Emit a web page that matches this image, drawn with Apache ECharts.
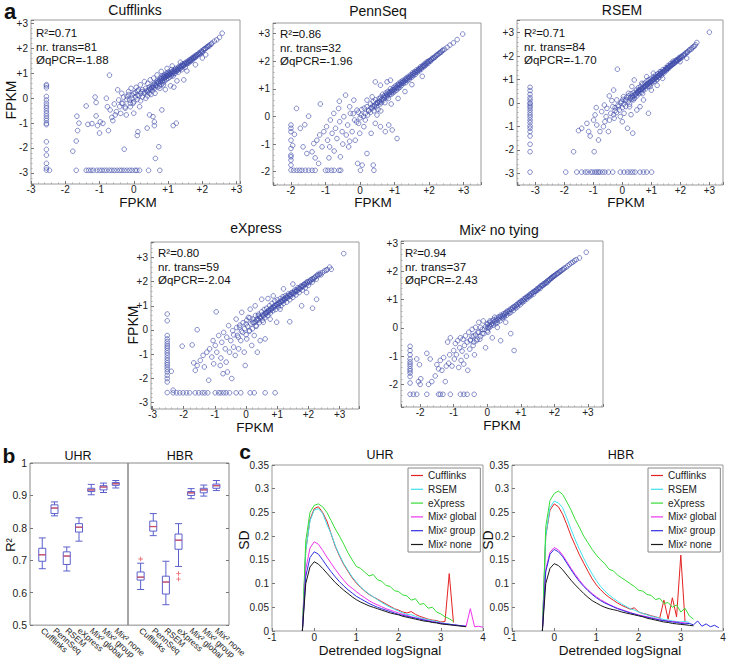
<!DOCTYPE html>
<html>
<head>
<meta charset="utf-8">
<script src="https://cdn.jsdelivr.net/npm/echarts@6.0.0/dist/echarts.min.js"></script>
<style>
  html, body { margin: 0; padding: 0; background: #fff; }
  #chart { width: 730px; height: 662px; }
</style>
</head>
<body>
<div id="chart"></div>
<script>
// ---------- panel a : log FPKM, method vs qPCR ----------
const methodNames = ['Cufflinks', 'PennSeq', 'RSEM', 'eXpress', 'Mix² no tying'];
const r2Values = [0.71, 0.86, 0.71, 0.80, 0.94];
const nrTrans = [81, 32, 84, 59, 37];
const qpcrValues = [-1.88, -1.96, -1.70, -2.04, -2.43];

// Cufflinks
const cuffBand = [[-0.35,-0.2],[-0.3,0.05],[-0.25,-0.35],[-0.2,-0.05],[-0.15,0.15],[-0.1,-0.2],[-0.05,0.0],[0,0.2],[0,-0.15],[0.05,0.05],[0.1,-0.05],[0.1,0.3],[0.15,0.1],[0.2,-0.1],[0.2,0.2],[0.25,0.35],[0.25,0.05],[0.3,0.2],[0.35,0.0],[0.35,0.4],[0.4,0.25],[0.4,0.1],[0.45,0.45],[0.45,0.2],[0.5,0.35],[0.5,0.15],[0.55,0.5],[0.55,0.3],[0.6,0.6],[0.6,0.4],[0.62,0.2],[0.65,0.5],[0.68,0.7],[0.7,0.45],[0.72,0.6],[0.75,0.75],[0.75,0.5],[0.78,0.65],[0.8,0.85],[0.8,0.55],[0.83,0.72],[0.85,0.9],[0.85,0.62],[0.88,0.8],[0.9,0.95],[0.9,0.7],[0.93,0.85],[0.95,1.0],[0.95,0.75],[0.98,0.9],[1.0,1.05],[1.0,0.8],[1.03,0.95],[1.05,0.85],[1.08,1.05],[1.1,0.9],[1.1,1.15],[1.13,1.0],[1.15,0.9],[1.18,1.1],[1.2,1.0],[1.22,1.2],[1.25,1.08],[1.28,1.15],[1.3,1.05],[1.32,1.28],[1.35,1.2],[1.38,1.3],[1.4,1.15],[1.42,1.38],[1.45,1.3],[1.48,1.4],[1.5,1.25],[1.52,1.45],[1.55,1.38],[1.58,1.5],[1.6,1.42],[1.63,1.55],[1.65,1.48],[1.68,1.6],[1.7,1.52],[1.73,1.65],[1.75,1.6],[1.78,1.7],[1.8,1.65],[1.83,1.75],[1.86,1.72],[1.9,1.82],[1.93,1.78],[1.97,1.9],[2.0,1.85],[2.03,1.95],[2.08,2.0],[2.12,2.05],[2.17,2.1],[2.22,2.15],[2.28,2.22],[2.35,2.3],[2.42,2.35],[2.5,2.45],[2.58,2.62]];
const cuffCore = [[0.32,0.25],[0.38,0.3],[0.43,0.33],[0.47,0.38],[0.52,0.42],[0.57,0.45],[0.58,0.55],[0.63,0.52],[0.66,0.62],[0.7,0.65],[0.73,0.68],[0.77,0.7],[0.79,0.78],[0.82,0.8],[0.84,0.68],[0.87,0.85],[0.89,0.88],[0.91,0.82],[0.94,0.92],[0.96,0.88],[0.99,0.97],[1.01,0.92],[1.04,1.02],[1.06,0.98],[1.09,0.96],[1.11,1.05],[1.14,1.08],[1.16,1.02],[1.19,1.15],[1.21,1.08],[1.24,1.16],[1.27,1.12],[1.29,1.22],[1.31,1.16],[1.34,1.25],[1.37,1.22],[1.39,1.32],[1.41,1.26],[1.44,1.34],[1.47,1.33],[1.49,1.38],[1.53,1.4],[1.56,1.44],[1.59,1.46],[1.62,1.5],[1.66,1.53],[1.69,1.56],[1.72,1.6],[1.76,1.64],[1.79,1.66],[1.82,1.7],[1.87,1.76],[1.91,1.8],[1.95,1.83],[1.99,1.88],[2.05,1.97],[2.1,2.0],[2.15,2.07],[2.2,2.1],[2.26,2.18]];
const cuffSpread = [[-1.78,-2.13],[-1.68,-1.72],[-1.64,-1.3],[-1.6,-1.0],[-1.66,-0.72],[-1.39,-0.31],[-1.34,-1.05],[-1.22,-1.02],[-1.13,0.05],[-1.1,-0.17],[-1.1,-0.71],[-1.06,-1.1],[-1.0,-1.4],[-0.98,-0.95],[-0.9,-1.01],[-0.8,0.0],[-0.77,-0.34],[-0.74,-1.3],[-0.71,0.93],[-0.69,-0.47],[-0.64,-0.77],[-0.61,-0.9],[-0.57,-0.23],[-0.54,-0.67],[-0.51,-0.54],[-0.47,0.34],[-0.44,-0.07],[-0.41,-0.34],[-0.38,-0.61],[-0.35,0.2],[-0.32,-0.2],[-0.28,-2.05],[-0.25,-0.4],[-0.22,-0.67],[-0.2,0.07],[-0.15,0.27],[-0.12,-0.07],[-0.1,-0.34],[-0.08,0.4],[-0.05,0.13],[-0.02,-0.2],[0.0,-0.6],[0.04,0.23],[0.07,0.44],[0.11,0.13],[0.14,0.34],[0.17,-0.34],[0.19,0.54],[0.24,0.27],[0.31,0.67],[0.39,-1.2],[0.41,0.6],[0.46,-0.67],[0.48,0.74],[0.53,0.44],[0.56,-0.74],[0.58,0.81],[0.6,-0.95],[0.63,-2.42],[0.68,0.94],[0.73,-1.95],[0.76,0.4],[0.8,1.08],[0.82,-0.47],[0.87,0.54],[0.92,0.35],[0.97,1.2],[1.07,0.5],[1.12,1.3],[1.15,-1.1],[1.17,0.45],[1.24,-1.0],[1.26,0.7],[1.36,1.45],[1.46,0.74],[1.55,1.1],[1.8,1.35],[2.0,1.62],[2.1,1.75],[0.1,-1.5],[0.12,-1.35],[0.6,-1.1]];
const cuffFloorX = -2.55;
const cuffColumnY = [0.55,0.5,0.42,0.07,-0.07,-0.2,-0.31,-0.4,-0.51,-0.61,-0.71,-0.81,-0.9,-1.01,-1.06,-1.75,-2.06,-2.29,-2.62,-2.8,-2.89];
const cuffFloorY = -2.9;
const cuffRowX = [-2.46,-1.68,-1.39,-1.32,-1.25,-1.18,-1.08,-1.0,-0.93,-0.86,-0.79,-0.71,-0.64,-0.57,-0.49,-0.41,-0.35,-0.28,-0.2,-0.12,-0.05,0.04,0.09,0.17,0.43,0.76];

// PennSeq
const pennBand = [[-0.2,0.1],[-0.1,-0.2],[-0.05,0.15],[0,-0.05],[0.05,0.25],[0.1,0.0],[0.12,0.3],[0.15,0.1],[0.2,0.35],[0.22,0.05],[0.25,0.2],[0.3,0.45],[0.3,0.15],[0.35,0.3],[0.38,0.55],[0.4,0.2],[0.42,0.4],[0.45,0.6],[0.48,0.35],[0.5,0.5],[0.52,0.25],[0.55,0.65],[0.58,0.45],[0.6,0.7],[0.62,0.5],[0.65,0.8],[0.68,0.6],[0.7,0.75],[0.72,0.5],[0.75,0.85],[0.78,0.7],[0.8,0.9],[0.82,0.65],[0.85,0.8],[0.88,1.0],[0.9,0.8],[0.92,0.95],[0.95,0.85],[0.98,1.05],[1.0,0.9],[1.02,1.1],[1.05,0.95],[1.08,1.15],[1.1,1.0],[1.12,1.2],[1.15,1.05],[1.18,1.25],[1.2,1.12],[1.23,1.3],[1.26,1.2],[1.3,1.35],[1.32,1.22],[1.35,1.4],[1.38,1.3],[1.4,1.45],[1.43,1.35],[1.46,1.5],[1.5,1.42],[1.52,1.58],[1.55,1.48],[1.58,1.62],[1.6,1.52],[1.63,1.68],[1.66,1.6],[1.7,1.72],[1.72,1.65],[1.75,1.8],[1.78,1.72],[1.82,1.85],[1.85,1.8],[1.88,1.92],[1.9,1.85],[1.94,1.98],[1.97,1.92],[2.0,2.02],[2.04,2.0],[2.08,2.08],[2.12,2.1],[2.17,2.15],[2.2,2.2],[2.25,2.24],[2.3,2.3],[2.35,2.33],[2.4,2.4],[2.45,2.43],[2.52,2.5],[2.6,2.58],[2.7,2.66],[2.81,2.78],[2.97,2.98]];
const pennCore = [[0.32,0.32],[0.37,0.38],[0.41,0.35],[0.46,0.45],[0.51,0.48],[0.54,0.55],[0.57,0.52],[0.61,0.6],[0.64,0.62],[0.67,0.7],[0.71,0.68],[0.74,0.72],[0.77,0.8],[0.79,0.76],[0.83,0.85],[0.86,0.86],[0.89,0.9],[0.91,0.88],[0.94,0.96],[0.97,0.95],[0.99,0.98],[1.03,1.02],[1.06,1.06],[1.09,1.05],[1.11,1.12],[1.14,1.14],[1.17,1.15],[1.19,1.2],[1.22,1.22],[1.25,1.25],[1.28,1.27],[1.31,1.3],[1.34,1.34],[1.37,1.36],[1.41,1.4],[1.44,1.42],[1.47,1.46],[1.51,1.5],[1.54,1.55],[1.57,1.56],[1.61,1.6],[1.65,1.64],[1.68,1.67],[1.71,1.7],[1.74,1.74],[1.77,1.76],[1.81,1.8],[1.84,1.84],[1.87,1.86],[1.91,1.9],[1.95,1.95],[1.99,1.98],[2.03,2.03],[2.07,2.06],[2.11,2.12],[2.16,2.14],[2.22,2.22],[2.28,2.27],[2.33,2.32],[2.38,2.38]];
const pennSpread = [[-1.84,0.29],[-1.49,0.01],[-1.15,0.45],[-1.73,-0.43],[-1.65,-1.1],[-1.54,-1.34],[-1.39,-1.28],[-1.34,-0.98],[-1.25,-0.86],[-1.17,-0.67],[-1.1,-1.1],[-1.05,-0.55],[-0.97,-0.37],[-0.94,-0.86],[-0.88,-1.1],[-0.86,-0.13],[-0.81,-0.61],[-0.76,0.11],[-0.71,-0.43],[-0.67,-0.8],[-0.62,0.29],[-0.59,-0.19],[-0.57,-1.46],[-0.52,-0.55],[-0.47,-0.01],[-0.42,0.77],[-0.4,-0.67],[-0.36,-0.31],[-0.33,-1.1],[-0.28,0.11],[-0.23,-0.55],[-0.18,0.59],[-0.16,-0.13],[-0.14,-0.86],[-0.09,0.23],[-0.07,-1.7],[-0.04,-0.25],[-0.01,-0.61],[0.03,0.05],[0.06,-1.76],[0.11,-0.37],[0.15,-0.13],[0.2,-1.34],[0.25,0.23],[0.32,-0.61],[0.38,-1.76],[0.44,-0.25],[0.49,0.05],[0.59,-0.37],[0.73,-0.55],[0.83,-0.31],[0.93,-0.49],[1.07,-0.8],[0.78,1.25],[0.44,1.25],[0.2,0.59],[0.35,0.71],[0.59,1.13],[0.88,1.31],[-1.95,-1.05],[-1.9,-0.65],[-1.6,-0.3],[-1.3,-1.5],[-1.2,-1.7],[-0.9,-1.5],[-0.75,-1.25],[-0.5,-1.0],[-0.3,-0.9],[0.6,0.2],[0.9,0.45],[1.1,0.65],[1.3,0.9],[1.5,1.15],[1.8,1.45],[-0.6,0.55],[-0.3,0.35]];
const pennFloorX = -2.0;
const pennColumnY = [-0.31,-0.43,-0.55,-0.86,-1.16,-1.4,-1.46,-1.58,-1.76,-1.94];
const pennFloorY = -1.95;
const pennRowX = [-1.92,-1.83,-1.75,-1.68,-1.58,-1.49,-1.39,-1.3,-1.0,-0.93,-0.83,-0.75,-0.61,-0.56,0.01,0.4];

// RSEM
const rsemBand = [[-0.3,-0.5],[-0.25,-0.2],[-0.2,-0.4],[-0.15,-0.1],[-0.1,-0.3],[-0.05,0.0],[0,-0.2],[0.02,0.15],[0.05,-0.05],[0.1,0.1],[0.12,-0.15],[0.15,0.25],[0.2,0.05],[0.22,0.3],[0.25,-0.05],[0.28,0.2],[0.3,0.4],[0.33,0.15],[0.35,0.3],[0.4,0.45],[0.42,0.2],[0.45,0.35],[0.48,0.55],[0.5,0.3],[0.53,0.45],[0.55,0.65],[0.58,0.4],[0.6,0.55],[0.63,0.7],[0.65,0.45],[0.68,0.6],[0.7,0.8],[0.72,0.55],[0.75,0.7],[0.78,0.85],[0.8,0.6],[0.82,0.75],[0.85,0.95],[0.88,0.7],[0.9,0.85],[0.92,1.0],[0.95,0.78],[0.98,0.9],[1.0,1.05],[1.02,0.85],[1.05,0.98],[1.08,1.12],[1.1,0.92],[1.12,1.05],[1.15,1.2],[1.18,1.0],[1.2,1.12],[1.23,1.25],[1.26,1.08],[1.3,1.2],[1.32,1.32],[1.35,1.18],[1.38,1.3],[1.4,1.42],[1.43,1.28],[1.46,1.38],[1.5,1.5],[1.52,1.38],[1.55,1.48],[1.58,1.6],[1.6,1.48],[1.63,1.58],[1.66,1.68],[1.7,1.6],[1.72,1.7],[1.75,1.78],[1.78,1.68],[1.82,1.8],[1.85,1.75],[1.88,1.85],[1.92,1.82],[1.95,1.92],[1.98,1.88],[2.02,1.98],[2.06,1.95],[2.1,2.05],[2.15,2.08],[2.2,2.15],[2.25,2.18],[2.3,2.25],[2.38,2.3],[2.45,2.4],[2.52,2.48]];
const rsemCore = [[0.3,0.25],[0.35,0.22],[0.4,0.32],[0.44,0.38],[0.49,0.4],[0.52,0.47],[0.56,0.5],[0.6,0.52],[0.62,0.58],[0.66,0.6],[0.7,0.62],[0.73,0.67],[0.77,0.7],[0.8,0.72],[0.83,0.78],[0.86,0.8],[0.89,0.82],[0.93,0.87],[0.96,0.88],[0.99,0.93],[1.03,0.95],[1.06,1.0],[1.09,1.02],[1.13,1.06],[1.16,1.08],[1.19,1.12],[1.22,1.14],[1.25,1.18],[1.28,1.2],[1.31,1.25],[1.34,1.26],[1.37,1.3],[1.41,1.33],[1.44,1.37],[1.48,1.4],[1.51,1.44],[1.54,1.46],[1.57,1.5],[1.61,1.54],[1.64,1.56],[1.68,1.6],[1.71,1.63],[1.74,1.66],[1.77,1.7],[1.8,1.72],[1.84,1.77],[1.87,1.8],[1.9,1.83],[1.94,1.87],[1.97,1.9],[2.0,1.93],[2.05,1.98],[2.12,2.03],[2.18,2.1],[2.24,2.16],[2.33,2.28],[2.4,2.35],[2.48,2.42]];
const rsemSpread = [[-1.68,-2.08],[-0.97,-2.08],[-1.51,-1.18],[-1.4,-1.08],[-1.22,-0.87],[-1.16,-1.22],[-1.11,-1.41],[-0.99,-0.73],[-0.94,-0.51],[-0.88,-0.94],[-0.82,-1.58],[-0.77,-1.22],[-0.71,-0.37],[-0.65,-1.01],[-0.62,-0.09],[-0.56,-0.58],[-0.53,-0.23],[-0.48,-1.22],[-0.44,-0.73],[-0.4,-0.44],[-0.36,0.1],[-0.33,-0.16],[-0.3,0.55],[-0.28,-0.65],[-0.25,-0.33],[-0.19,0.13],[-0.17,1.44],[-0.13,-0.16],[-0.07,-0.58],[-0.02,0.06],[0.04,0.27],[0.06,-0.44],[0.13,0.13],[0.18,-1.08],[0.21,0.41],[0.25,-0.16],[0.33,0.7],[0.36,-1.29],[0.38,0.13],[0.41,0.98],[0.5,-0.3],[0.56,0.55],[0.61,-0.16],[0.67,0.84],[0.73,0.13],[0.84,1.12],[0.9,-0.44],[0.96,0.7],[1.07,1.27],[1.19,0.98],[1.3,1.34],[1.53,1.48],[1.39,1.05],[1.99,1.76],[2.22,1.91],[2.57,2.58],[3.0,3.02],[-0.9,-0.2],[-0.6,-0.8],[-0.45,0.3],[0.0,-0.8],[0.3,-0.5],[0.7,0.4],[1.0,0.55],[1.2,0.75]];
const rsemFloorX = -3.18;
const rsemColumnY = [0.67,0.53,0.37,0.23,0.13,0.01,-0.04,-0.13,-0.2,-0.3,-0.41,-0.51,-0.61,-0.73,-0.84,-0.98,-1.08,-1.22,-1.41,-1.76,-2.08,-2.95];
const rsemFloorY = -2.95;
const rsemRowX = [-1.95,-1.57,-1.4,-1.28,-1.2,-1.09,-1.02,-0.94,-0.88,-0.82,-0.77,-0.68,-0.6,-0.48,-0.33,-0.07,0.06,0.18,0.27,0.36,0.44,0.61,0.73,0.84,1.01];

// eXpress
const expBand = [[-0.4,-0.2],[-0.3,0.1],[-0.25,-0.3],[-0.2,0.2],[-0.15,-0.05],[-0.1,0.3],[-0.05,0.05],[0,-0.2],[0.02,0.4],[0.05,0.15],[0.1,-0.05],[0.12,0.5],[0.15,0.25],[0.2,0.05],[0.22,0.45],[0.25,0.3],[0.3,0.6],[0.32,0.15],[0.35,0.4],[0.4,0.65],[0.42,0.3],[0.45,0.5],[0.5,0.75],[0.52,0.4],[0.55,0.6],[0.58,0.85],[0.6,0.5],[0.63,0.7],[0.66,0.9],[0.7,0.6],[0.72,0.8],[0.75,1.0],[0.78,0.7],[0.8,0.9],[0.83,1.1],[0.86,0.8],[0.9,1.0],[0.92,1.2],[0.95,0.85],[0.98,1.05],[1.0,1.25],[1.03,0.95],[1.06,1.1],[1.1,1.3],[1.12,1.0],[1.15,1.18],[1.18,1.38],[1.2,1.1],[1.23,1.25],[1.26,1.42],[1.3,1.15],[1.33,1.32],[1.36,1.5],[1.4,1.25],[1.43,1.4],[1.46,1.55],[1.5,1.35],[1.53,1.5],[1.56,1.65],[1.6,1.45],[1.63,1.6],[1.66,1.75],[1.7,1.55],[1.73,1.7],[1.76,1.82],[1.8,1.65],[1.83,1.8],[1.86,1.9],[1.9,1.75],[1.93,1.88],[1.96,2.0],[2.0,1.85],[2.04,1.98],[2.08,2.08],[2.12,1.98],[2.16,2.1],[2.2,2.18],[2.25,2.1],[2.3,2.25],[2.35,2.3],[2.4,2.28],[2.45,2.38],[2.52,2.45],[2.6,2.5],[2.68,2.6]];
const expCore = [[0.3,0.35],[0.35,0.45],[0.4,0.42],[0.44,0.55],[0.48,0.52],[0.52,0.62],[0.56,0.58],[0.6,0.68],[0.63,0.65],[0.67,0.75],[0.7,0.72],[0.73,0.82],[0.77,0.8],[0.8,0.86],[0.83,0.88],[0.86,0.94],[0.89,0.92],[0.92,1.0],[0.95,1.0],[0.98,1.06],[1.01,1.05],[1.04,1.12],[1.07,1.1],[1.1,1.18],[1.13,1.16],[1.16,1.24],[1.19,1.22],[1.22,1.3],[1.25,1.28],[1.28,1.35],[1.31,1.34],[1.34,1.42],[1.38,1.4],[1.41,1.48],[1.44,1.46],[1.48,1.54],[1.51,1.52],[1.55,1.6],[1.58,1.58],[1.62,1.66],[1.65,1.64],[1.69,1.72],[1.72,1.7],[1.76,1.78],[1.8,1.8],[1.84,1.86],[1.88,1.88],[1.92,1.94],[1.97,1.96],[2.02,2.02],[2.07,2.05],[2.12,2.12],[2.18,2.15],[2.24,2.22],[2.3,2.3],[2.38,2.35]];
const expSpread = [[-2.4,-1.71],[-2.34,-2.49],[-2.05,-0.67],[-1.73,-0.62],[-1.57,0.01],[-1.68,-1.36],[-1.63,-1.67],[-1.57,-1.47],[-1.47,-1.26],[-1.38,-1.05],[-1.34,-1.53],[-1.26,-0.92],[-1.2,-2.08],[-1.17,-0.78],[-1.1,-1.12],[-1.06,-0.44],[-1.04,-1.4],[-0.99,-0.64],[-0.96,0.75],[-0.94,-0.92],[-0.88,-0.23],[-0.83,-1.47],[-0.81,-1.16],[-0.78,-0.51],[-0.74,-1.81],[-0.72,-0.1],[-0.67,-0.78],[-0.64,-1.33],[-0.62,-0.3],[-0.6,-1.74],[-0.56,0.18],[-0.53,-0.92],[-0.49,-0.44],[-0.46,-2.01],[-0.43,-0.03],[-0.4,-0.71],[-0.35,-1.05],[-0.32,0.45],[-0.28,-0.23],[-0.24,-0.78],[-0.21,0.11],[-0.17,-0.44],[-0.14,0.73],[-0.11,-0.1],[-0.06,-0.92],[-0.03,-1.47],[0.0,0.25],[0.02,-0.37],[0.07,0.52],[0.11,-0.03],[0.13,0.86],[0.18,-0.64],[0.21,0.32],[0.26,-0.23],[0.29,1.0],[0.32,0.18],[0.36,-0.92],[0.39,0.59],[0.45,-0.44],[0.5,1.27],[0.55,0.32],[0.61,-0.37],[0.66,0.73],[0.77,0.45],[0.87,1.41],[0.98,0.32],[1.09,0.86],[1.4,0.34],[1.78,1.0],[2.13,0.9],[2.26,1.27],[1.94,1.55],[2.57,2.47],[2.73,2.51],[3.13,3.16],[1.2,1.7],[1.5,1.9],[0.7,1.3]];
const expFloorX = -2.53;
const expColumnY = [0.66,0.38,-0.23,-0.37,-0.48,-0.58,-0.67,-0.75,-0.85,-0.95,-1.05,-1.16,-1.26,-1.36,-1.44,-1.53,-1.63,-1.74,-1.88,-2.01,-2.15,-2.59];
const expFloorY = -2.6;
const expRowX = [-2.34,-2.23,-2.13,-2.02,-1.91,-1.81,-1.63,-1.52,-1.41,-1.33,-1.23,-0.99,-0.88,-0.81,-0.72,-0.64,-0.53,-0.32,-0.17,0.13,0.26,0.61,0.93];

// Mix2 no tying
const mixBand = [[-0.5,-0.45],[-0.45,-0.3],[-0.4,-0.5],[-0.35,-0.25],[-0.3,-0.4],[-0.25,-0.15],[-0.2,-0.3],[-0.15,-0.05],[-0.1,-0.2],[-0.05,0.05],[0,-0.1],[0,0.12],[0.05,0.0],[0.08,0.2],[0.1,0.05],[0.15,0.25],[0.18,0.1],[0.2,0.3],[0.25,0.15],[0.28,0.35],[0.3,0.2],[0.35,0.4],[0.38,0.25],[0.4,0.45],[0.45,0.35],[0.48,0.5],[0.5,0.38],[0.55,0.55],[0.58,0.45],[0.6,0.6],[0.65,0.52],[0.68,0.66],[0.7,0.55],[0.75,0.72],[0.78,0.62],[0.8,0.76],[0.85,0.7],[0.88,0.83],[0.9,0.75],[0.95,0.9],[0.98,0.82],[1.0,0.95],[1.05,0.9],[1.08,1.02],[1.1,0.95],[1.15,1.08],[1.18,1.02],[1.2,1.12],[1.25,1.1],[1.28,1.2],[1.3,1.14],[1.35,1.26],[1.38,1.2],[1.4,1.3],[1.45,1.3],[1.48,1.38],[1.5,1.34],[1.55,1.44],[1.58,1.4],[1.6,1.5],[1.65,1.5],[1.68,1.57],[1.7,1.54],[1.75,1.62],[1.78,1.6],[1.8,1.68],[1.85,1.7],[1.88,1.75],[1.92,1.78],[1.96,1.82],[2.0,1.85],[2.05,1.9],[2.1,1.94],[2.15,1.98],[2.2,2.03],[2.27,2.08],[2.35,2.15],[2.45,2.25],[2.55,2.33],[2.65,2.42],[2.75,2.48],[2.95,2.68]];
const mixCore = [[0.02,0.02],[0.06,0.08],[0.12,0.12],[0.16,0.17],[0.22,0.22],[0.26,0.26],[0.32,0.3],[0.36,0.35],[0.42,0.39],[0.46,0.44],[0.52,0.48],[0.56,0.52],[0.62,0.58],[0.66,0.6],[0.72,0.66],[0.76,0.7],[0.82,0.75],[0.86,0.8],[0.92,0.85],[0.96,0.88],[1.02,0.94],[1.06,0.97],[1.12,1.03],[1.16,1.06],[1.22,1.12],[1.26,1.16],[1.32,1.21],[1.36,1.25],[1.42,1.3],[1.46,1.34],[1.52,1.4],[1.56,1.43],[1.62,1.49],[1.66,1.52],[1.72,1.58],[1.76,1.62],[1.82,1.67],[1.86,1.71],[1.9,1.75],[1.94,1.79],[1.98,1.83],[2.02,1.86],[2.08,1.92],[2.12,1.95],[2.18,2.0],[2.24,2.06],[2.3,2.12],[2.4,2.2],[2.5,2.3],[2.6,2.38]];
const mixSpread = [[-2.1,-1.1],[-2.02,-1.3],[-2.05,-1.9],[-2.0,-2.0],[-1.98,-1.8],[-1.8,-0.9],[-1.7,-1.1],[-1.75,-2.0],[-1.65,-1.9],[-1.55,-1.7],[-1.5,-1.3],[-1.45,-1.45],[-1.4,-1.15],[-1.35,-1.5],[-1.3,-1.05],[-1.25,-1.9],[-1.22,-1.35],[-1.18,-0.5],[-1.15,-1.25],[-1.12,-0.95],[-1.1,-0.35],[-1.05,-1.35],[-1.0,-0.8],[-0.98,-1.1],[-0.95,-0.55],[-0.92,-0.95],[-0.88,-0.45],[-0.85,-1.4],[-0.82,-0.7],[-0.8,-0.35],[-0.78,-1.15],[-0.75,-0.82],[-0.72,-0.4],[-0.7,-1.28],[-0.68,-0.62],[-0.65,-0.28],[-0.62,-1.0],[-0.6,-0.5],[-0.58,-1.5],[-0.55,-0.15],[-0.52,-0.75],[-0.5,-0.42],[-0.45,-0.05],[-0.42,-0.62],[-0.4,-0.28],[-0.38,-0.95],[-0.35,0.02],[-0.32,-0.45],[-0.28,-0.15],[-0.25,0.2],[-0.22,-0.4],[-0.2,0.02],[-0.15,-0.2],[-0.12,0.25],[-0.08,-0.05],[-0.05,-0.7],[0.0,0.15],[0.02,-0.15],[0.08,0.25],[0.15,-0.35],[0.22,0.38],[0.3,0.02],[0.4,-0.45],[0.5,0.42],[0.55,0.2],[0.7,-0.2],[0.8,-0.8]];
const mixFloorX = -2.3;
const mixColumnY = [-0.65,-0.8,-0.95,-1.1,-1.2,-1.28,-1.36,-1.45,-1.52,-1.6,-1.72,-1.95,-2.35];
const mixFloorY = -2.35;
const mixRowX = [-2.2,-2.1,-1.8,-1.45,-1.4,-1.32,-1.1,-0.8,-0.7,-0.6,-0.39];

// ---------- panel b : R2 box plots ----------
const boxCats = ['Cufflinks', 'PennSeq', 'RSEM', 'eXpress', 'Mix² global', 'Mix² group', 'Mix² none'];
// [min, Q1, median, Q3, max]
const uhrBox = [[0.674,0.697,0.717,0.737,0.769],[0.837,0.844,0.861,0.871,0.880],[0.667,0.687,0.713,0.726,0.741],[0.759,0.787,0.802,0.813,0.831],[0.902,0.912,0.917,0.922,0.934],[0.909,0.917,0.926,0.930,0.938],[0.923,0.931,0.936,0.940,0.946]];
const hbrBox = [[0.610,0.639,0.648,0.664,0.691],[0.776,0.790,0.804,0.821,0.844],[0.563,0.596,0.633,0.651,0.697],[0.681,0.734,0.762,0.781,0.813],[0.890,0.900,0.908,0.912,0.921],[0.898,0.908,0.917,0.922,0.932],[0.915,0.922,0.930,0.935,0.946]];
const hbrOutliers = [[1, 0.704], [4, 0.659], [4, 0.642]];

// ---------- panel c : SD vs detrended log signal ----------
const lineNames = ['Cufflinks', 'RSEM', 'eXpress', 'Mix² global', 'Mix² group', 'Mix² none'];
const logX = [-0.28,-0.2,-0.1,0,0.1,0.2,0.3,0.4,0.5,0.6,0.7,0.8,0.9,1.0,1.1,1.2,1.3,1.4,1.5,1.6,1.7,1.8,1.9,2.0,2.1,2.2,2.3,2.4,2.5,2.6,2.7,2.8,2.9,3.0,3.1,3.2,3.3,3.4,3.5,3.6,3.7,3.8,3.9,4.0];
const uhrSD = [
  [0,0.17,0.235,0.258,0.262,0.25,0.232,0.205,0.178,0.158,0.14,0.126,0.112,0.101,0.092,0.084,0.077,0.072,0.067,0.062,0.057,0.052,0.047,0.044,0.04,0.038,0.041,0.035,0.031,0.028,0.025,0.023,0.022,0.019,0.02,0.121,0.018],
  [0,0.17,0.232,0.255,0.258,0.248,0.225,0.205,0.18,0.16,0.142,0.128,0.114,0.103,0.093,0.085,0.078,0.072,0.066,0.06,0.055,0.05,0.046,0.042,0.038,0.035,0.034,0.031,0.028,0.026,0.024,0.022,0.02,0.018,0.016,0.015,0.013,0.012,0.011],
  [0,0.19,0.25,0.265,0.268,0.262,0.25,0.233,0.215,0.2,0.183,0.165,0.15,0.136,0.132,0.124,0.116,0.119,0.108,0.105,0.096,0.094,0.085,0.083,0.076,0.074,0.065,0.068,0.056,0.058,0.048,0.05,0.04,0.036,0.03,0.026,0.02],
  [0,0.13,0.175,0.188,0.183,0.17,0.156,0.143,0.13,0.118,0.107,0.097,0.09,0.083,0.076,0.07,0.064,0.059,0.055,0.051,0.047,0.044,0.041,0.038,0.035,0.033,0.03,0.028,0.026,0.024,0.022,0.02,0.018,0.017,0.015,0.014,0.013,0.012,0.011,0.01,0.047,0.009,0.01,0.008],
  [0,0.115,0.155,0.167,0.162,0.15,0.137,0.125,0.114,0.104,0.095,0.087,0.08,0.073,0.068,0.063,0.058,0.054,0.05,0.047,0.044,0.041,0.038,0.035,0.033,0.031,0.029,0.027,0.025,0.023,0.021,0.019,0.018,0.016,0.015,0.014,0.013,0.012,0.011,0.01],
  [0,0.1,0.135,0.146,0.141,0.132,0.122,0.112,0.102,0.094,0.086,0.079,0.072,0.066,0.061,0.057,0.053,0.05,0.047,0.044,0.041,0.038,0.036,0.034,0.031,0.029,0.027,0.025,0.023,0.021,0.02,0.018,0.017,0.015,0.014,0.013,0.012,0.011,0.01,0.009]
];
const hbrSD = [
  [0,0.2,0.255,0.268,0.262,0.246,0.224,0.2,0.18,0.16,0.143,0.126,0.11,0.097,0.087,0.078,0.071,0.065,0.059,0.054,0.05,0.046,0.049,0.04,0.037,0.035,0.032,0.03,0.027,0.065,0.025,0.07,0.03,0.16,0.02],
  [0,0.2,0.26,0.274,0.27,0.26,0.238,0.214,0.192,0.172,0.153,0.136,0.12,0.106,0.094,0.084,0.076,0.069,0.063,0.057,0.052,0.047,0.044,0.04,0.037,0.034,0.031,0.029,0.027,0.024,0.023,0.021,0.02,0.019,0.02,0.018],
  [0,0.22,0.275,0.29,0.295,0.288,0.272,0.255,0.235,0.218,0.2,0.186,0.172,0.16,0.15,0.142,0.13,0.127,0.118,0.112,0.106,0.1,0.094,0.086,0.084,0.077,0.075,0.066,0.069,0.058,0.06,0.05,0.055,0.04,0.048,0.032,0.025],
  [0,0.13,0.166,0.176,0.171,0.16,0.146,0.132,0.119,0.107,0.096,0.087,0.079,0.072,0.066,0.061,0.056,0.052,0.048,0.045,0.042,0.039,0.036,0.034,0.032,0.03,0.028,0.026,0.024,0.022,0.021,0.02,0.019,0.018,0.017,0.016],
  [0,0.125,0.162,0.172,0.167,0.157,0.143,0.129,0.116,0.104,0.094,0.085,0.077,0.07,0.064,0.059,0.055,0.051,0.047,0.044,0.041,0.038,0.036,0.033,0.031,0.029,0.027,0.025,0.023,0.022,0.02,0.019,0.018,0.016,0.015,0.016,0.013,0.021,0.01,0.015,0.009,0.012,0.007],
  [0,0.1,0.132,0.142,0.138,0.129,0.118,0.107,0.097,0.088,0.079,0.071,0.064,0.059,0.054,0.05,0.047,0.045,0.043,0.04,0.038,0.036,0.034,0.032,0.03,0.027,0.025,0.023,0.021,0.019,0.018,0.016,0.015,0.014,0.013,0.012,0.011]
];

// ---------- layout ----------
const FONT = '"Liberation Sans", Arial, Helvetica, sans-serif';
const lineColors = ['#e32222', '#3fe3ee', '#35dd35', '#ee33ee', '#3030e0', '#1a1a1a'];

const scatterSets = [
  [cuffBand.concat(cuffCore), cuffSpread, cuffFloorX, cuffColumnY, cuffFloorY, cuffRowX],
  [pennBand.concat(pennCore), pennSpread, pennFloorX, pennColumnY, pennFloorY, pennRowX],
  [rsemBand.concat(rsemCore), rsemSpread, rsemFloorX, rsemColumnY, rsemFloorY, rsemRowX],
  [expBand.concat(expCore), expSpread, expFloorX, expColumnY, expFloorY, expRowX],
  [mixBand.concat(mixCore), mixSpread, mixFloorX, mixColumnY, mixFloorY, mixRowX]
];
const scatterBoxes = [
  { left: 31, top: 20, width: 209, height: 164, xr: [-3, 3.1], yr: [-3.45, 3.15], title: [135, 10], stats: [36, 33] },
  { left: 273, top: 23, width: 208, height: 162, xr: [-2.52, 3.5], yr: [-2.48, 3.38], title: [378, 11], stats: [280, 34] },
  { left: 517, top: 20, width: 206, height: 165, xr: [-3.63, 3.47], yr: [-3.5, 3.54], title: [622, 10], stats: [524, 33] },
  { left: 151, top: 242, width: 208, height: 167, xr: [-3.05, 3.62], yr: [-3.27, 3.64], title: [256, 228], stats: [158, 253] },
  { left: 401, top: 241, width: 202, height: 166, xr: [-2.57, 3.45], yr: [-2.8, 3.08], title: [499, 230], stats: [405, 253] }
];

function signed(v) {
  if (Math.abs(v - Math.round(v)) > 1e-6) return '';
  v = Math.round(v);
  return v > 0 ? '+' + v : String(v);
}

function text(str, x, y, size, opt) {
  opt = opt || {};
  const align = opt.align || 'center';
  return {
    type: 'text', x: x, y: y, rotation: opt.rotation || 0, silent: true, z: 100,
    style: {
      text: str, fill: '#111',
      font: (opt.weight || 'normal') + ' ' + size + 'px ' + FONT,
      textAlign: align, textVerticalAlign: 'middle', align: align, verticalAlign: 'middle'
    }
  };
}

const grids = [], xAxes = [], yAxes = [], series = [], graphics = [];

function tickAxis(gridIndex, extra) {
  return Object.assign({
    gridIndex: gridIndex, type: 'value',
    axisLine: { show: false, onZero: false }, splitLine: { show: false },
    axisTick: { inside: true, length: 3, lineStyle: { color: '#777' } },
    axisLabel: { fontSize: 10.5, color: '#222', fontFamily: FONT, margin: 3 }
  }, extra);
}

// panel a
scatterBoxes.forEach(function (b, i) {
  grids.push({ left: b.left, top: b.top, width: b.width, height: b.height, show: true, borderColor: '#9a9a9a', borderWidth: 1 });
  const minor = { show: true, splitNumber: 5, length: 1.5, lineStyle: { color: '#aaa' } };
  xAxes.push(tickAxis(i, { min: b.xr[0], max: b.xr[1], splitNumber: 6, minorTick: minor,
    axisLabel: { formatter: signed, fontSize: 10, color: '#222', fontFamily: FONT, margin: 0.5 } }));
  yAxes.push(tickAxis(i, { min: b.yr[0], max: b.yr[1], splitNumber: 6, minorTick: minor,
    axisLabel: { formatter: signed, fontSize: 10, color: '#222', fontFamily: FONT, margin: 3 } }));
  const s = scatterSets[i];
  const pts = s[0].concat(s[1], s[3].map(function (y) { return [s[2], y]; }), s[5].map(function (x) { return [x, s[4]]; }));
  series.push({
    type: 'scatter', xAxisIndex: i, yAxisIndex: i, data: pts, symbolSize: 4.6, silent: true,
    itemStyle: { color: 'rgba(0,0,0,0)', borderColor: '#3f4ba8', borderWidth: 0.8 }
  });
  graphics.push(text(methodNames[i], b.title[0], b.title[1], 14));
  graphics.push(text('R²=' + r2Values[i].toFixed(2), b.stats[0], b.stats[1], 11.5, { align: 'left' }));
  graphics.push(text('nr. trans=' + nrTrans[i], b.stats[0], b.stats[1] + 14, 11.5, { align: 'left' }));
  graphics.push(text('ØqPCR=' + qpcrValues[i].toFixed(2), b.stats[0], b.stats[1] + 27, 11.5, { align: 'left' }));
});
graphics.push(text('a', 10, 11, 22, { weight: 'bold' }));
[[138, 202.5], [373, 202.5], [626, 202.5], [255, 427], [502, 425]].forEach(function (p) {
  graphics.push(text('FPKM', p[0], p[1], 13.5));
});
graphics.push(text('FPKM', 11, 100, 14, { rotation: Math.PI / 2 }));
graphics.push(text('FPKM', 133, 325, 14, { rotation: Math.PI / 2 }));

// panel b
const boxGrids = [{ left: 30, top: 463, width: 98, height: 166 }, { left: 128, top: 463, width: 101, height: 166 }];
const boxData = [uhrBox, hbrBox];
boxGrids.forEach(function (g, k) {
  const gi = grids.length;
  grids.push(Object.assign({ show: true, borderColor: '#888', borderWidth: 1 }, g));
  xAxes.push({
    gridIndex: gi, type: 'value', min: 0, max: 8, interval: 1,
    axisLine: { show: false, onZero: false }, splitLine: { show: false }, axisTick: { show: false },
    axisLabel: { rotate: -42, fontSize: 8.5, color: '#222', fontFamily: FONT, margin: 4,
      formatter: function (v) { return boxCats[v - 1] || ''; } }
  });
  yAxes.push(tickAxis(gi, { min: 0.5, max: 1, interval: 0.1, position: k === 0 ? 'left' : 'right',
    axisLabel: { show: k === 0, fontSize: 10.5, color: '#222', fontFamily: FONT, margin: 3 } }));
  series.push({
    type: 'boxplot', xAxisIndex: gi, yAxisIndex: gi, silent: true, boxWidth: [7, 7],
    data: boxData[k].map(function (b, i) { return [i + 1].concat(b); }),
    itemStyle: { color: 'rgba(0,0,0,0)', borderColor: '#5b60cc', borderWidth: 1 }
  });
  series.push({
    type: 'scatter', xAxisIndex: gi, yAxisIndex: gi, silent: true, z: 5,
    symbol: 'rect', symbolSize: [7, 1.3], itemStyle: { color: '#e4474a' },
    data: boxData[k].map(function (b, i) { return [i + 1, b[2]]; })
  });
  if (k === 1) {
    series.push({
      type: 'scatter', xAxisIndex: gi, yAxisIndex: gi, silent: true, z: 5,
      symbol: 'path://M2,0h1v2h2v1h-2v2h-1v-2h-2v-1h2z', symbolSize: 4.5,
      itemStyle: { color: '#e4474a' }, data: hbrOutliers
    });
  }
});
graphics.push(text('b', 9, 455, 21, { weight: 'bold' }));
graphics.push(text('UHR', 78, 456, 12.5));
graphics.push(text('HBR', 180, 456, 12.5));
graphics.push(text('R²', 10, 545, 13, { rotation: Math.PI / 2 }));

// panel c
const lineGrids = [{ left: 272, top: 465, width: 211, height: 166 }, { left: 512, top: 465, width: 211, height: 166 }];
const sdSets = [uhrSD, hbrSD];
const legends = [];
lineGrids.forEach(function (g, k) {
  const gi = grids.length;
  grids.push(Object.assign({ show: true, borderColor: '#999', borderWidth: 1 }, g));
  xAxes.push(tickAxis(gi, { min: -1, max: 4, interval: 1,
    axisLabel: { fontSize: 10, color: '#222', fontFamily: FONT, margin: 1 } }));
  yAxes.push(tickAxis(gi, { min: 0, max: 0.35, interval: 0.05,
    axisLabel: { fontSize: 10, color: '#222', fontFamily: FONT, margin: 3 } }));
  sdSets[k].forEach(function (arr, j) {
    series.push({
      type: 'line', name: lineNames[j], xAxisIndex: gi, yAxisIndex: gi,
      symbol: 'none', silent: true, color: lineColors[j],
      lineStyle: { width: 1, color: lineColors[j] },
      data: arr.map(function (v, i) { return [logX[i], v]; })
    });
  });
  legends.push({
    data: lineNames, orient: 'vertical', left: g.left + g.width - 75, top: 468,
    icon: 'rect', itemWidth: 12, itemHeight: 1.2, itemGap: 3.8, padding: [2.5, 4, 2.5, 3],
    borderColor: '#888', borderWidth: 1, backgroundColor: '#fff', selectedMode: false,
    textStyle: { fontSize: 10, color: '#222', fontFamily: FONT, lineHeight: 10 }
  });
});
graphics.push(text('c', 245, 451, 21, { weight: 'bold' }));
graphics.push(text('UHR', 380, 455, 12.5));
graphics.push(text('HBR', 621, 455, 12.5));
graphics.push(text('SD', 244, 540, 14, { rotation: Math.PI / 2 }));
graphics.push(text('SD', 488, 540, 14, { rotation: Math.PI / 2 }));
graphics.push(text('Detrended logSignal', 380, 650, 13.5));
graphics.push(text('Detrended logSignal', 620, 650, 13.5));

const chart = echarts.init(document.getElementById('chart'), null, { renderer: 'svg' });
chart.setOption({
  animation: false,
  backgroundColor: '#fff',
  textStyle: { fontFamily: FONT },
  grid: grids,
  xAxis: xAxes,
  yAxis: yAxes,
  legend: legends,
  series: series,
  graphic: graphics
});
</script>
</body>
</html>
